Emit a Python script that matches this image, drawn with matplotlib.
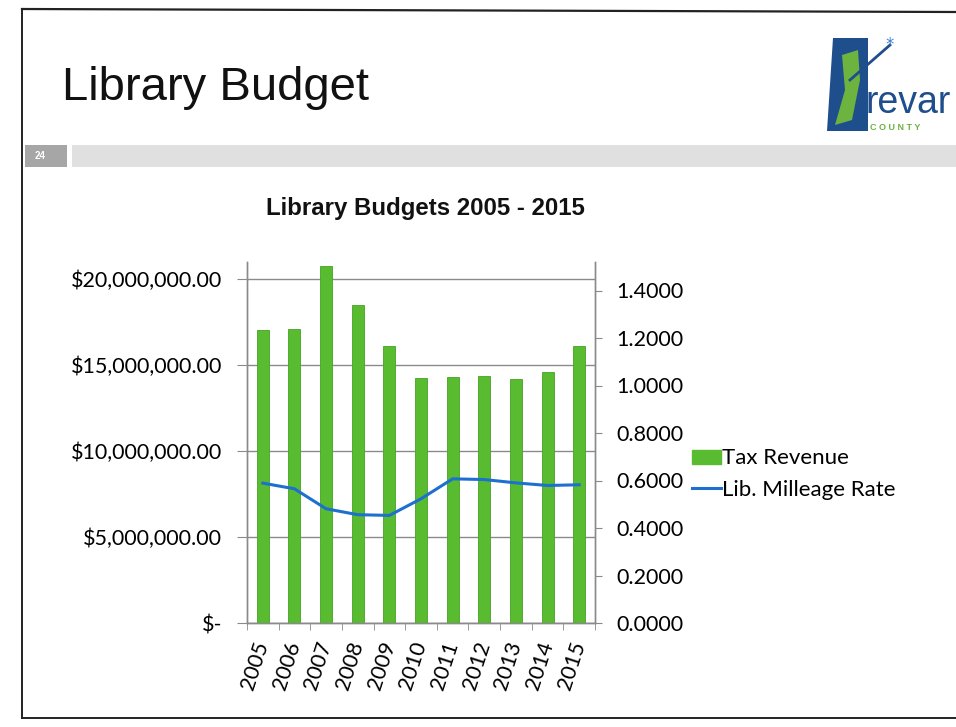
import matplotlib
matplotlib.use("Agg")
import matplotlib.pyplot as plt
from matplotlib.patches import Rectangle, Polygon
from matplotlib.lines import Line2D
from matplotlib.ticker import FuncFormatter, FixedLocator
import numpy as np

years = ["2005", "2006", "2007", "2008", "2009", "2010", "2011", "2012", "2013", "2014", "2015"]
tax_revenue = [17.03e6, 17.13e6, 20.76e6, 18.48e6, 16.11e6, 14.27e6, 14.30e6, 14.38e6, 14.21e6, 14.60e6, 16.10e6]
milleage_rate = [0.589, 0.565, 0.481, 0.456, 0.453, 0.523, 0.607, 0.604, 0.590, 0.579, 0.582]
left_ticks = [0, 5e6, 10e6, 15e6, 20e6]
right_ticks = [0.0, 0.2, 0.4, 0.6, 0.8, 1.0, 1.2, 1.4]

W, H = 956, 727
fig = plt.figure(figsize=(W / 100, H / 100), dpi=100)
fig.patch.set_facecolor("white")

def fx(x):
    return x / W

def fy(y):
    return 1 - y / H

# slide frame
fig.add_artist(Line2D([fx(22), fx(956)], [fy(9), fy(12)], color="#222222", lw=1.6))
fig.add_artist(Line2D([fx(22), fx(22)], [fy(9), fy(718)], color="#222222", lw=1.4))
fig.add_artist(Line2D([fx(22), fx(956)], [fy(718), fy(718)], color="#222222", lw=1.4))

# gray band + page number
fig.add_artist(Rectangle((fx(72), fy(167)), fx(956 - 72), (167 - 145) / H, color="#e0e0e0", lw=0))
fig.add_artist(Rectangle((fx(25), fy(167)), fx(42), (167 - 145) / H, color="#a6a6a6", lw=0))
fig.text(fx(40), fy(156), "24", color="white", fontsize=7, fontweight="bold", ha="center", va="center",
         family="Liberation Sans")

# slide title
fig.text(fx(62), fy(100), "Library Budget", fontsize=34, ha="left", va="baseline",
         family=["Liberation Sans Narrow", "Liberation Sans"], color="#111111")

# simple logo
navy = "#1f4e8c"
green = "#6cb33f"
fig.add_artist(Polygon([(fx(833), fy(38)), (fx(868), fy(38)), (fx(868), fy(131)), (fx(827), fy(131))],
                       closed=True, color=navy, lw=0))
fig.add_artist(Polygon([(fx(842), fy(55)), (fx(858), fy(50)), (fx(860), fy(80)), (fx(852), fy(120)),
                        (fx(835), fy(125)), (fx(845), fy(90))], closed=True, color=green, lw=0))
fig.add_artist(Line2D([fx(850), fx(890)], [fy(80), fy(45)], color=navy, lw=2))
fig.text(fx(890), fy(45), "*", color="#3a7bd5", fontsize=12, ha="center", va="center")
fig.text(fx(866), fy(103), "revar", color=navy, fontsize=27, ha="left", va="center",
         family=["Liberation Sans Narrow", "Liberation Sans"])
fig.text(fx(870), fy(127), "C O U N T Y", color=green, fontsize=6.5, fontweight="bold", ha="left",
         va="center", family="Liberation Sans")

# chart title
fig.text(fx(425), fy(208), "Library Budgets 2005 - 2015", fontsize=17.3, fontweight="bold",
         ha="center", va="center", family="Liberation Sans", color="#111111")

# axes
left, right, top, bottom = 247, 595, 262, 623
ax = fig.add_axes([fx(left), fy(bottom), fx(right - left), (bottom - top) / H])
ax2 = ax.twinx()

x = np.arange(len(years))
bar_color = "#58bb30"
ax.bar(x, tax_revenue, width=0.38, color=bar_color, edgecolor="#45a322", linewidth=0.6, zorder=3,
       label="Tax Revenue")
ax.set_xlim(-0.5, len(years) - 0.5)
ax.set_ylim(0, 21.0e6)
ax.yaxis.set_major_locator(FixedLocator(left_ticks))

def money(v, pos):
    if v == 0:
        return "$-"
    return "${:,.2f}".format(v)

ax.yaxis.set_major_formatter(FuncFormatter(money))
ax.grid(axis="y", color="#8a8a8a", lw=1.0, zorder=0)
ax.set_axisbelow(True)

line_color = "#1d6fd0"
ax2.plot(x, milleage_rate, color=line_color, lw=2.2, zorder=4, label="Lib. Milleage Rate")
ax2.set_ylim(0, 1.52)
ax2.yaxis.set_major_locator(FixedLocator(right_ticks))
ax2.yaxis.set_major_formatter(FuncFormatter(lambda v, p: "{:.4f}".format(v)))

for a in (ax, ax2):
    a.spines["top"].set_visible(False)
    for sp in a.spines.values():
        sp.set_color("#8a8a8a")
        sp.set_linewidth(1.0)

ax.set_xticks(x)
ax.set_xticklabels(years, rotation=72, ha="right", va="center", rotation_mode="anchor",
                   family="Lato", fontsize=15.5)
ax.tick_params(axis="x", which="major", length=0, pad=14)
ax.set_xticks(np.arange(-0.5, len(years)), minor=True)
ax.tick_params(axis="x", which="minor", length=5, color="#8a8a8a", direction="out")
ax.tick_params(axis="y", length=7, color="#8a8a8a", pad=11, labelsize=15.5)
for lab in ax.get_yticklabels():
    lab.set_family("Lato")
ax2.tick_params(axis="y", length=5, color="#8a8a8a", pad=10.5, labelsize=15.5)
for lab in ax2.get_yticklabels():
    lab.set_family("Lato")

# legend
h1 = Rectangle((0, 0), 1, 1, color=bar_color)
h2 = Line2D([], [], color=line_color, lw=2.2)
fig.legend([h1, h2], ["Tax Revenue", "Lib. Milleage Rate"], loc="center left",
           bbox_to_anchor=(fx(692), fy(474)), frameon=False, prop=dict(family="Lato", size=16),
           handlelength=1.3, handleheight=0.6, handletextpad=0.05, labelspacing=0.5,
           borderaxespad=0, borderpad=0)

fig.savefig("out.png", dpi=100)
